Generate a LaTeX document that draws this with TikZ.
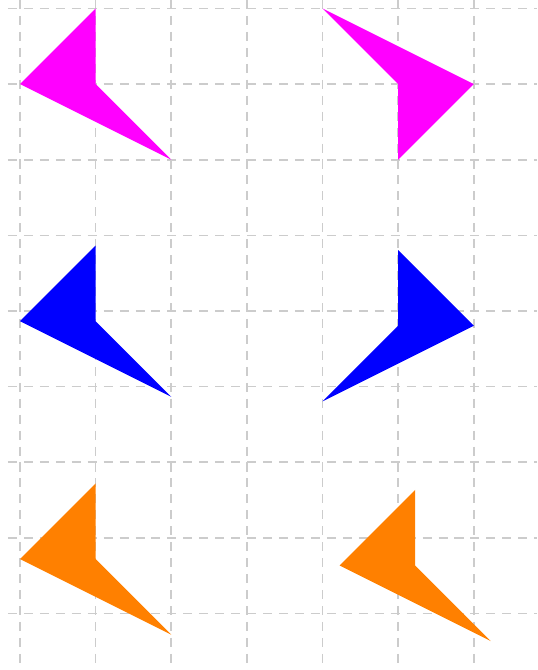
\documentclass[tikz,border=0pt]{standalone}
\definecolor{mag}{rgb}{1,0,1}
\definecolor{org}{rgb}{1,0.5,0}
\begin{document}
\begin{tikzpicture}[
  gridline/.style={draw=black!20, dash pattern=on 3.4pt off 2.6pt, line width=0.6pt}
]
\useasboundingbox (-0.2646,-0.747) rectangle (6.839,8.112);
% grid
\foreach \x in {0,...,6} \draw[gridline] (\x,8.112) -- (\x,-0.747);
\foreach \y in {0,...,8} \draw[gridline] (-0.16,\y) -- (6.839,\y);
% magenta
\fill[mag] (1,8) -- (0,7) -- (2,6) -- (1,7) -- cycle;
\fill[mag] (4,8) -- (6,7) -- (5,6) -- (5,7) -- cycle;
% blue
\fill[blue] (1,4.865) -- (0,3.865) -- (2,2.865) -- (1,3.865) -- cycle;
\fill[blue] (5,4.805) -- (6,3.805) -- (4,2.805) -- (5,3.805) -- cycle;
% orange
\fill[org] (1,1.72) -- (0,0.72) -- (2,-0.28) -- (1,0.72) -- cycle;
\fill[org] (5.225,1.635) -- (4.225,0.635) -- (6.225,-0.365) -- (5.225,0.635) -- cycle;
\end{tikzpicture}
\end{document}
